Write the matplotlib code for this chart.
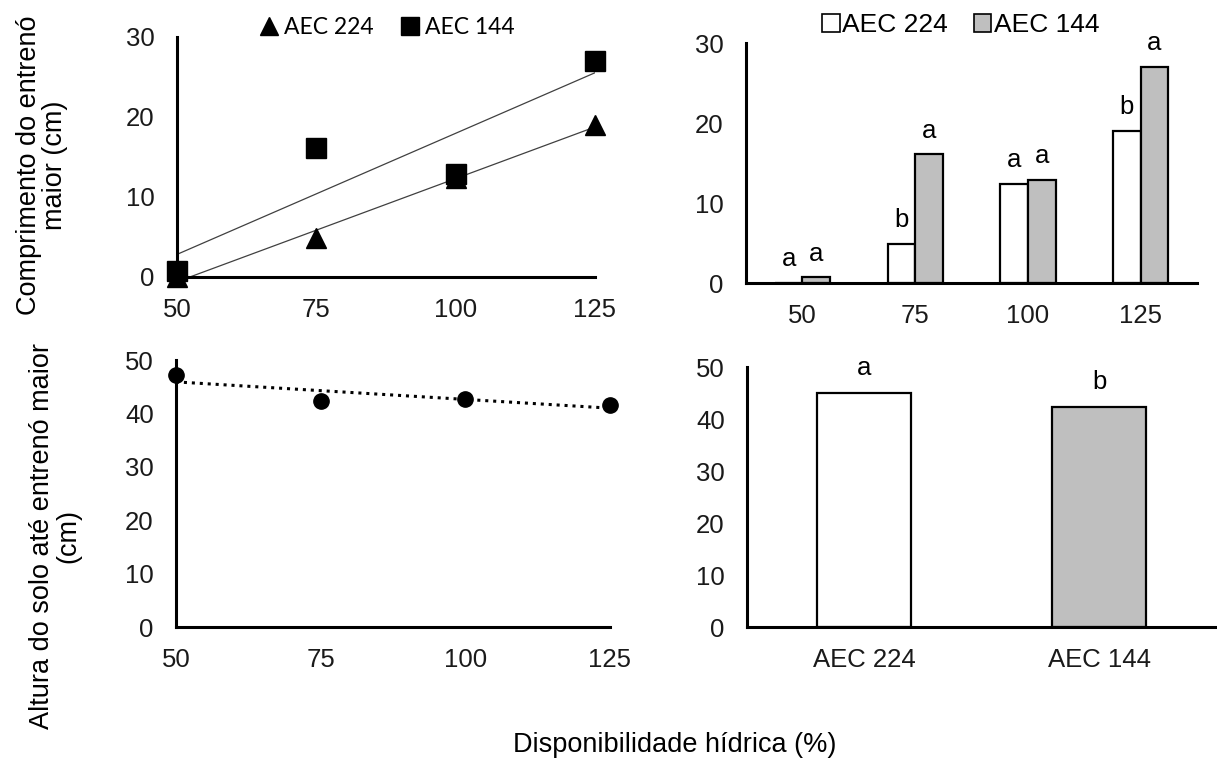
import numpy as np
import matplotlib
matplotlib.use("Agg")
import matplotlib.pyplot as plt
from matplotlib.lines import Line2D
from matplotlib.patches import Patch

plt.rcParams['font.family'] = ['Liberation Sans', 'DejaVu Sans']
FS = 18.5

# dados
doses = [50, 75, 100, 125]
aec224_comp = [0, 4.9, 12.4, 19.0]
aec144_comp = [0.7, 16.1, 12.9, 27.0]
letras224_comp = ['a', 'b', 'a', 'b']
letras144_comp = ['a', 'a', 'a', 'a']
altura = [47.2, 42.3, 42.7, 41.6]
cultivares = ['AEC 224', 'AEC 144']
altura_cult = [45.0, 42.3]
letras_cult = ['a', 'b']

cinza = '#bfbfbf'

fig = plt.figure(figsize=(12.17, 7.58), dpi=100)

ax1 = fig.add_axes([0.1454, 0.6346, 0.3435, 0.3166])
ax2 = fig.add_axes([0.6130, 0.6266, 0.3706, 0.3166])
ax3 = fig.add_axes([0.1446, 0.1728, 0.3566, 0.3522])
ax4 = fig.add_axes([0.6138, 0.1728, 0.3862, 0.3430])


def estilo(ax):
    for s in ['top', 'right']:
        ax.spines[s].set_visible(False)
    for s in ['left', 'bottom']:
        ax.spines[s].set_linewidth(2.2)
        ax.spines[s].set_color('black')
    ax.tick_params(length=0, labelsize=FS, colors='#1a1a1a')
    ax.tick_params(axis='y', pad=16)
    ax.tick_params(axis='x', pad=15)


# painel 1 - dispersao com tendencias
xs = np.array(doses)
for ys in [aec224_comp, aec144_comp]:
    a, b = np.polyfit(xs, ys, 1)
    ax1.plot(xs, a * xs + b, color='#404040', lw=0.9)
ax1.plot(doses, aec224_comp, '^', color='black', ms=14, clip_on=False, zorder=3)
ax1.plot(doses, aec144_comp, 's', color='black', ms=14, clip_on=False, zorder=4)
ax1.set_xlim(50, 125)
ax1.set_ylim(0, 30)
ax1.set_xticks(doses)
ax1.set_yticks([0, 10, 20, 30])
estilo(ax1)
h1 = [Line2D([], [], marker='^', ls='', color='black', ms=13),
      Line2D([], [], marker='s', ls='', color='black', ms=13)]
fig.legend(h1, cultivares, loc='center', bbox_to_anchor=(386 / 1217, 1 - 28 / 758),
           ncol=2, frameon=False, handletextpad=0.15, columnspacing=1.1,
           handlelength=1.0, prop={'family': 'Lato', 'size': 16.5})

# painel 2 - barras
pos = np.arange(len(doses))
w = 0.245
b1 = ax2.bar(pos - w / 2, aec224_comp, w, color='white', edgecolor='black', lw=1.6)
b2 = ax2.bar(pos + w / 2, aec144_comp, w, color=cinza, edgecolor='black', lw=1.6)
for bars, letras in [(b1, letras224_comp), (b2, letras144_comp)]:
    for r, l in zip(bars, letras):
        ax2.annotate(l, (r.get_x() + r.get_width() / 2, r.get_height()),
                     xytext=(0, 12), textcoords='offset points',
                     ha='center', va='baseline', fontsize=FS)
ax2.set_xlim(-0.5, 3.5)
ax2.set_ylim(0, 30)
ax2.set_xticks(pos)
ax2.set_xticklabels(doses)
ax2.set_yticks([0, 10, 20, 30])
estilo(ax2)
h2 = [Patch(facecolor='white', edgecolor='black', lw=1.2),
      Patch(facecolor=cinza, edgecolor='black', lw=1.2)]
fig.legend(h2, cultivares, loc='center', bbox_to_anchor=(961 / 1217, 1 - 25 / 758),
           ncol=2, frameon=False, handletextpad=0.1, columnspacing=1.0,
           handlelength=0.65, handleheight=0.65, fontsize=19)

# painel 3 - altura vs disponibilidade
a, b = np.polyfit(xs, altura, 1)
ax3.plot(xs, a * xs + b, color='black', lw=2.2, ls=(0, (1, 1.6)))
ax3.plot(doses, altura, 'o', color='black', ms=11, clip_on=False, zorder=3)
ax3.set_xlim(50, 125)
ax3.set_ylim(0, 50)
ax3.set_xticks(doses)
ax3.set_yticks(range(0, 51, 10))
estilo(ax3)

# painel 4 - altura por cultivar
pc = np.arange(len(cultivares))
b4 = ax4.bar(pc, altura_cult, 0.4, color=['white', cinza], edgecolor='black', lw=1.6)
for r, l in zip(b4, letras_cult):
    ax4.annotate(l, (r.get_x() + r.get_width() / 2, r.get_height()),
                 xytext=(0, 13), textcoords='offset points',
                 ha='center', va='baseline', fontsize=FS)
ax4.set_xlim(-0.5, 1.5)
ax4.set_ylim(0, 50)
ax4.set_xticks(pc)
ax4.set_xticklabels(cultivares)
ax4.set_yticks(range(0, 51, 10))
estilo(ax4)

fig.text(42 / 1217, 1 - 165 / 758, 'Comprimento do entrenó\nmaior (cm)', rotation=90,
         ha='center', va='center', ma='center', fontsize=19.5, linespacing=1.0)
fig.text(55 / 1217, 1 - 536 / 758, 'Altura do solo até entrenó maior\n(cm)', rotation=90,
         ha='center', va='center', ma='center', fontsize=19.5, linespacing=1.0)
fig.text(675 / 1217, 1 - 745 / 758, 'Disponibilidade hídrica (%)',
         ha='center', va='center', fontsize=19.5)

fig.savefig('out.png', dpi=100)
